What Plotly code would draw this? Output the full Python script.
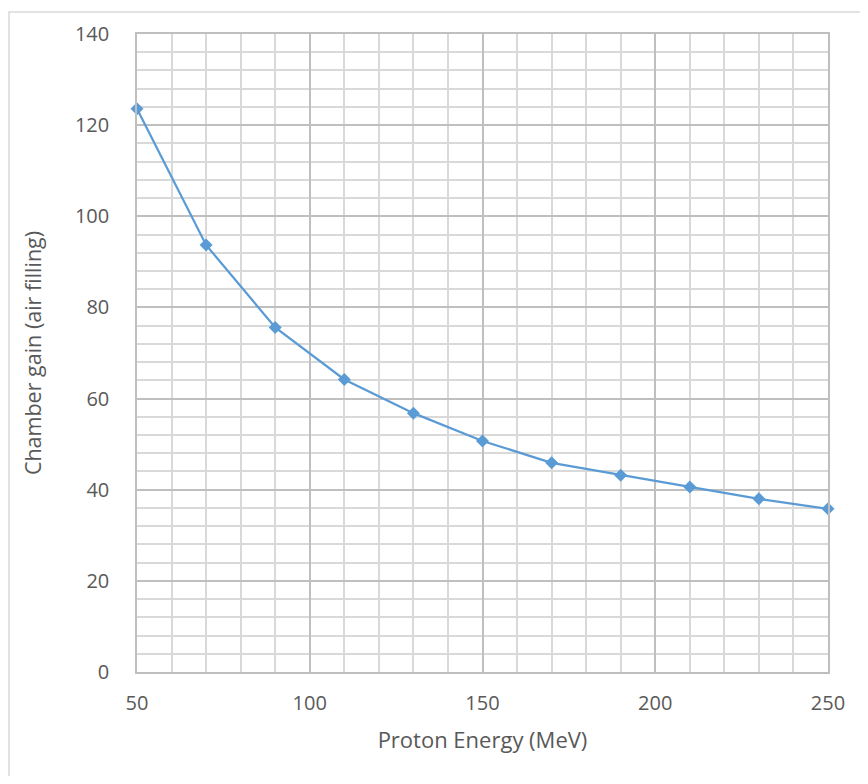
import plotly.graph_objects as go

energy = [50, 70, 90, 110, 130, 150, 170, 190, 210, 230, 250]
gain = [123.6, 93.7, 75.6, 64.2, 56.8, 50.7, 45.9, 43.2, 40.6, 38.0, 35.8]

# page body has an 8px margin; figure coordinates are page coordinates minus 8
OFF = 8
W, H = 852, 768
L, R, T, B = 137 - OFF, 828 - OFF, 31 - OFF, 672 - OFF
pw, ph = R - L, B - T

fig = go.Figure()
fig.add_trace(go.Scatter(
    x=energy, y=gain, mode="lines+markers",
    line=dict(color="#5b9bd5", width=2.25),
    marker=dict(symbol="diamond", size=10, color="#5b9bd5"),
    showlegend=False, cliponaxis=False,
))

font = dict(family="Open Sans, Liberation Sans, sans-serif", color="#595959", size=20)

fig.update_layout(
    width=W, height=H,
    margin=dict(l=L, r=W - R, t=T, b=H - B, pad=0),
    paper_bgcolor="white", plot_bgcolor="white",
    font=font,
    xaxis=dict(
        range=[50, 250], tickvals=[50, 100, 150, 200, 250],
        showgrid=True, gridcolor="#bfbfbf", gridwidth=1.5,
        minor=dict(dtick=10, showgrid=True, gridcolor="#d9d9d9", gridwidth=1.5),
        showline=True, linecolor="#bfbfbf", linewidth=1.5, mirror=True,
        zeroline=False, ticks="", ticklabelstandoff=12,
        title=dict(text="Proton Energy (MeV)", standoff=18, font=dict(size=22)),
    ),
    yaxis=dict(
        range=[0, 140], dtick=20,
        showgrid=True, gridcolor="#bfbfbf", gridwidth=1.5,
        minor=dict(dtick=4, showgrid=True, gridcolor="#d9d9d9", gridwidth=1.5),
        showline=True, linecolor="#bfbfbf", linewidth=1.5, mirror=True,
        zeroline=False, ticks="", ticklabelstandoff=22,
        title=dict(text="Chamber gain (air filling)", standoff=27, font=dict(size=21.5)),
    ),
    shapes=[dict(
        type="rect", xref="paper", yref="paper",
        x0=(1 - L) / pw, x1=(W + 20 - L) / pw,
        y0=(B - H - 20) / ph, y1=(B - 1) / ph,
        line=dict(color="#d9d9d9", width=1.5), fillcolor="rgba(0,0,0,0)", layer="below",
    )],
)

fig.write_html("out.html")
